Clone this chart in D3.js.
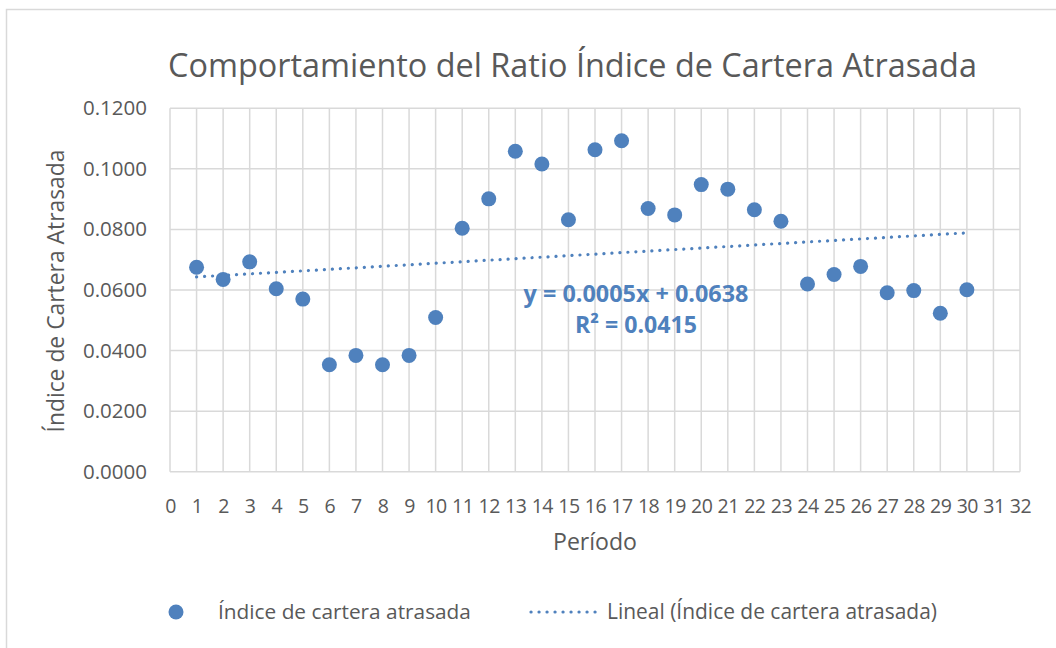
<!DOCTYPE html>
<html>
<head>
<meta charset="utf-8">
<script src="https://cdn.jsdelivr.net/npm/d3@7"></script>
<style>
  html, body { margin: 0; padding: 0; background: #ffffff; }
  svg { display: block; }
  text { font-family: "Open Sans", "Noto Sans", sans-serif; fill: #595959; }
</style>
</head>
<body>
<svg id="chart" width="1056" height="648"></svg>
<script>
// ---- data ----
const periods = [1,2,3,4,5,6,7,8,9,10,11,12,13,14,15,16,17,18,19,20,21,22,23,24,25,26,27,28,29,30];
const ratioValues = [0.0675,0.0635,0.0693,0.0604,0.0570,0.0353,0.0384,0.0353,0.0384,0.0509,
                     0.0804,0.0901,0.1058,0.1016,0.0832,0.1063,0.1093,0.0869,0.0848,0.0948,
                     0.0933,0.0865,0.0827,0.0620,0.0651,0.0678,0.0591,0.0598,0.0523,0.0601];
const xTicks = d3.range(0, 33);
const yTicks = [0, 0.02, 0.04, 0.06, 0.08, 0.10, 0.12];
const titleText = "Comportamiento del Ratio Índice de Cartera Atrasada";
const xTitle = "Período";
const yTitle = "Índice de Cartera Atrasada";
const seriesName = "Índice de cartera atrasada";
const trendName = "Lineal (Índice de cartera atrasada)";
const eqText = "y = 0.0005x + 0.0638";
const r2Text = "R² = 0.0415";

const blue = "#4f81bd";
const grid = "#d9d9d9";

const svg = d3.select("#chart");

// outer chart border
svg.append("rect").attr("x", 6.5).attr("y", 9.5).attr("width", 1200).attr("height", 800)
  .attr("fill", "none").attr("stroke", grid).attr("stroke-width", 1.5);

const pLeft = 170, pRight = 1020, pTop = 108.3, pBottom = 471.7;
const x = d3.scaleLinear().domain([0, 32]).range([pLeft, pRight]);
const y = d3.scaleLinear().domain([0, 0.12]).range([pBottom, pTop]);

function fit(sel, target) {
  const node = sel.node();
  const fs = parseFloat(sel.attr("font-size"));
  const w = node.getComputedTextLength();
  if (w > 0) sel.attr("font-size", (fs * target / w).toFixed(2));
}

// gridlines
svg.append("g").selectAll("line").data(yTicks).join("line")
  .attr("x1", pLeft).attr("x2", pRight).attr("y1", d => y(d)).attr("y2", d => y(d))
  .attr("stroke", grid).attr("stroke-width", 1.5);
svg.append("g").selectAll("line").data(xTicks).join("line")
  .attr("x1", d => x(d)).attr("x2", d => x(d)).attr("y1", pTop).attr("y2", pBottom)
  .attr("stroke", grid).attr("stroke-width", 1.5);

// axes (labels via d3 axes, lines hidden)
const yAxis = svg.append("g").attr("transform", `translate(${pLeft},0)`)
  .call(d3.axisLeft(y).tickValues(yTicks).tickFormat(d3.format(".4f")).tickSize(0).tickPadding(23));
yAxis.select(".domain").remove();
yAxis.selectAll("text").attr("font-size", 20.5).attr("fill", "#595959")
  .style("font-family", '"Open Sans", sans-serif');

const xAxis = svg.append("g").attr("transform", `translate(0,${pBottom})`)
  .call(d3.axisBottom(x).tickValues(xTicks).tickFormat(d3.format("d")).tickSize(0).tickPadding(27));
xAxis.select(".domain").remove();
xAxis.selectAll("text").attr("font-size", 19.5).attr("fill", "#595959")
  .style("font-family", '"Open Sans", sans-serif').attr("letter-spacing", -0.4);

// trendline via least squares
const mx = d3.mean(periods), my = d3.mean(ratioValues);
const slope = d3.sum(periods, (p, i) => (p - mx) * (ratioValues[i] - my)) / d3.sum(periods, p => (p - mx) ** 2);
const intercept = my - slope * mx;
const x0 = d3.min(periods), x1 = d3.max(periods);
svg.append("line")
  .attr("x1", x(x0)).attr("y1", y(intercept + slope * x0))
  .attr("x2", x(x1)).attr("y2", y(intercept + slope * x1))
  .attr("stroke", blue).attr("stroke-width", 3.2)
  .attr("stroke-linecap", "round").attr("stroke-dasharray", "0.1,7.9");

// points
svg.append("g").selectAll("circle").data(periods).join("circle")
  .attr("cx", d => x(d)).attr("cy", (d, i) => y(ratioValues[i]))
  .attr("r", 7.5).attr("fill", blue);

// equation labels
const eq = svg.append("text").attr("x", 636).attr("y", 302).attr("text-anchor", "middle")
  .attr("font-weight", "bold").attr("font-size", 20).style("fill", blue).text(eqText);
fit(eq, 225);
const r2 = svg.append("text").attr("x", 636).attr("y", 333).attr("text-anchor", "middle")
  .attr("font-weight", "bold").attr("font-size", 20).style("fill", blue).text(r2Text);
fit(r2, 122);

// title
const t = svg.append("text").attr("x", 572.5).attr("y", 77).attr("text-anchor", "middle")
  .attr("font-size", 30).text(titleText);
fit(t, 809);

// axis titles
const xt = svg.append("text").attr("x", 595).attr("y", 550).attr("text-anchor", "middle")
  .attr("font-size", 20).text(xTitle);
fit(xt, 84);
const yt = svg.append("text").attr("transform", "translate(64,291) rotate(-90)")
  .attr("text-anchor", "middle").attr("font-size", 20).text(yTitle);
fit(yt, 283);

// legend
svg.append("circle").attr("cx", 176).attr("cy", 612).attr("r", 7.5).attr("fill", blue);
const l1 = svg.append("text").attr("x", 218).attr("y", 619).attr("font-size", 18).text(seriesName);
fit(l1, 253);
svg.append("line").attr("x1", 531).attr("x2", 597).attr("y1", 612).attr("y2", 612)
  .attr("stroke", blue).attr("stroke-width", 3.2).attr("stroke-linecap", "round")
  .attr("stroke-dasharray", "0.1,7.9");
const l2 = svg.append("text").attr("x", 607).attr("y", 619).attr("font-size", 18).text(trendName);
fit(l2, 330);
</script>
</body>
</html>
